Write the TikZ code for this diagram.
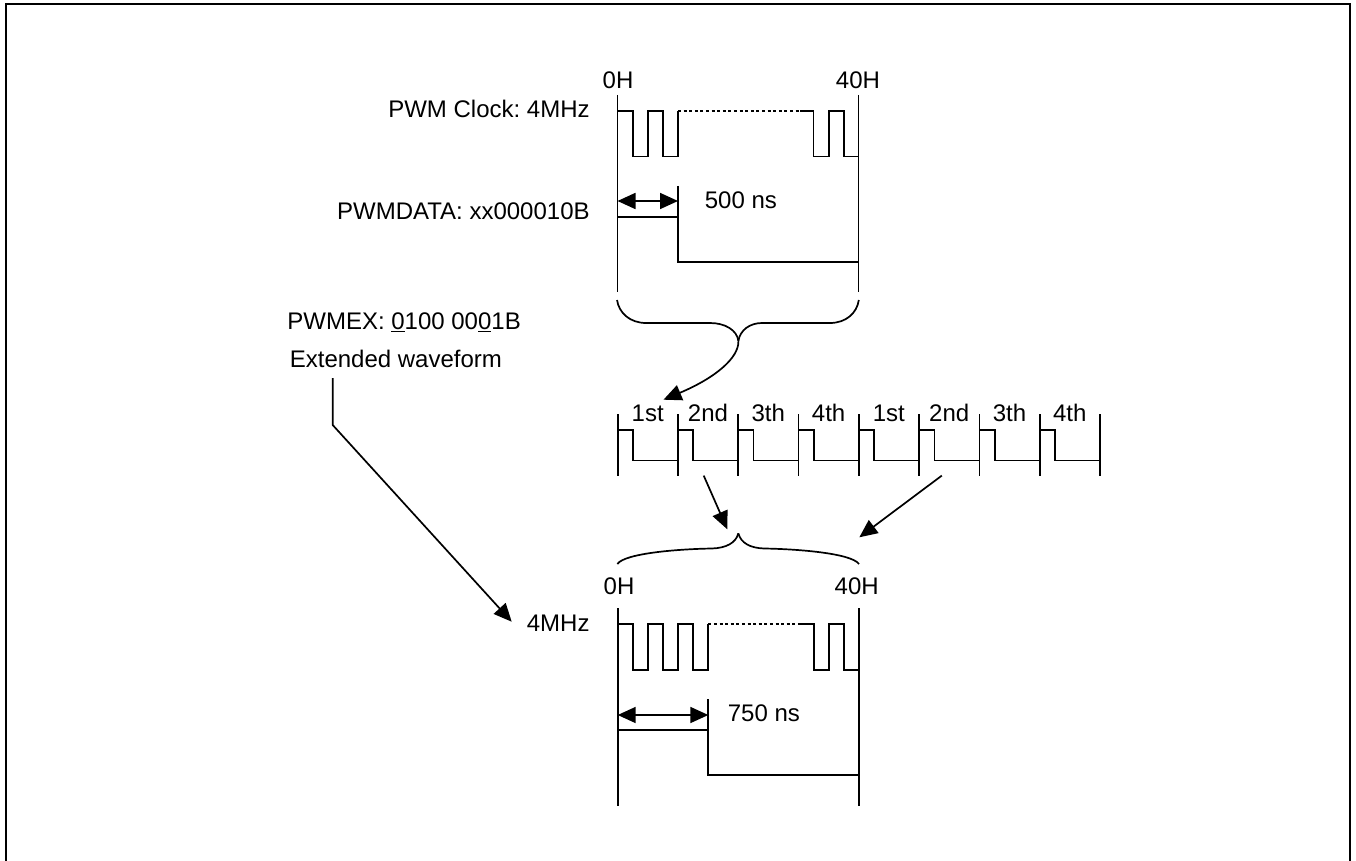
\documentclass[tikz,border=0pt]{standalone}
\usepackage{fontspec}
\setmainfont{Liberation Sans}
\usetikzlibrary{arrows.meta}
\frenchspacing
\tikzset{
	lbl/.style={inner sep=0pt,anchor=base west,font=\fontsize{24}{27}\selectfont},
	wave/.style={line width=1.7pt},
	dots/.style={line width=1.7pt,dash pattern=on 3pt off 2.6pt},
}
\begin{document}
\begin{tikzpicture}[x=1pt,y=-1pt,>={Stealth[length=18pt,width=16pt,inset=0pt]},line width=1.7pt]
	\useasboundingbox (0,0) rectangle (1356,861);
	
	% Khung
	\draw[line width=2.2pt] (6,861) -- (6,4) -- (1350,4) -- (1350,861);
	
	% Nhan ben trai
	\node[lbl,anchor=base east] (clk) at (590.5,118) {PWM Clock: 4MHz};
	\node[lbl,anchor=base east] (data) at (590.5,219) {PWMDATA: xx000010B};
	\node[lbl] (pwmex) at (286.5,329.5) {PWMEX: \underline{0}100 00\underline{0}1B};
	\node[lbl] (ext) at (289,367) {Extended waveform};
	\node[lbl] (clkb) at (526,631.5) {4MHz};
	
	% Dang song tren
	\node[lbl,anchor=base] (a0) at (618,89) {0H};
	\node[lbl,anchor=base] (a40) at (858,89) {40H};
	\draw (617.5,95) -- (617.5,292);
	\draw (858.5,95) -- (858.5,292);
	\draw[wave] (617.5,111) -- (632.7,111) -- (632.7,156.5) -- (648,156.5) -- (648,111) -- (663,111) -- (663,156.5) -- (678,156.5) -- (678,111);
	\draw[dots] (678,111) -- (800,111);
	\draw[wave] (800,111) -- (813.5,111) -- (813.5,156.5) -- (829,156.5) -- (829,111) -- (844,111) -- (844,156.5) -- (858.5,156.5);
	\draw[wave] (617.5,216.7) -- (678,216.7) -- (678,262) -- (858.5,262);
	\draw (678,186) -- (678,216.7);
	\draw[<->] (617.5,201) -- (678,201);
	\node[lbl] (t500) at (704,208) {500 ns};
	
	% Ngoac tren va mui ten
	\draw (617,300) .. controls (619,313) and (630,323) .. (646,323) -- (710,323) .. controls (725,323) and (737,330) .. (738.4,341);
	\draw (858.8,300) .. controls (857,313) and (846,323) .. (830,323) -- (762,323) .. controls (750,323) and (740,330) .. (738.4,341);
	\draw[->] (738.4,341) .. controls (739,358) and (715,378) .. (663.5,399.7);
	
	% Hang giua
	\foreach \x/\txt [count=\i] in {617.7/1st,678/2nd,738.3/3th,798.6/4th,858.9/1st,919.2/2nd,979.5/3th,1039.8/4th}{
		\draw (\x,414) -- (\x,475.6);
		\draw[wave] (\x,430) -- ++(15.2,0) -- ++(0,30.5) -- ++(45.1,0);
		\node[lbl,anchor=base] (s\i) at (\x+30,421) {\txt};
	}
	\draw (1100.1,414) -- (1100.1,475.6);
	
	% Hai mui ten xuong
	\draw[->] (703.7,475.6) -- (727.3,529.3);
	\draw[->] (941.8,475.6) -- (859.3,537.3);
	
	% Ngoac duoi
	\draw (617.3,564) .. controls (625,553) and (680,549) .. (712,548.5) .. controls (726,548) and (736,543) .. (738.3,533.3);
	\draw (859,564) .. controls (851,553) and (796,549) .. (764,548.5) .. controls (750,548) and (741,543) .. (738.3,533.3);
	
	% Duong gap khuc
	\coordinate (p1) at (332.7,378);
	\coordinate (p2) at (332.7,425);
	\coordinate (p3) at (511.7,621.7);
	\draw[->] (p1) -- (p2) -- (p3);
	
	% Dang song duoi
	\node[lbl,anchor=base] (b0) at (619,594) {0H};
	\node[lbl,anchor=base] (b40) at (856.7,594) {40H};
	\draw (617.7,608.3) -- (617.7,806);
	\draw (859,608.3) -- (859,806);
	\draw[wave] (617.7,624.3) -- (632.7,624.3) -- (632.7,670) -- (647.7,670) -- (647.7,624.3) -- (662.7,624.3) -- (662.7,670) -- (677.7,670) -- (677.7,624.3) -- (693.3,624.3) -- (693.3,670) -- (708.3,670) -- (708.3,624.3);
	\draw[dots] (708.3,624.3) -- (798.3,624.3);
	\draw[wave] (798.3,624.3) -- (814,624.3) -- (814,670) -- (829,670) -- (829,624.3) -- (844,624.3) -- (844,670) -- (859,670);
	\draw[wave] (617.7,730) -- (708.3,730) -- (708.3,775.3) -- (859,775.3);
	\draw (708.3,699.3) -- (708.3,730);
	\draw[<->] (617.7,715) -- (708.3,715);
	\node[lbl] (t750) at (727,721.7) {750 ns};
\end{tikzpicture}
\end{document}
